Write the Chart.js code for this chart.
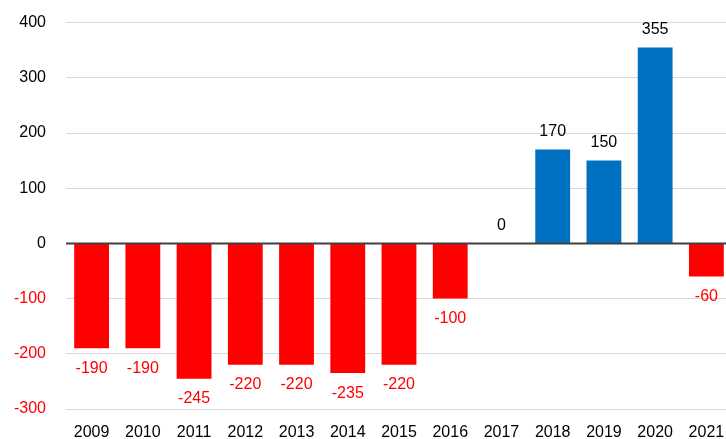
<!DOCTYPE html>
<html>
<head>
<meta charset="utf-8">
<script src="https://cdn.jsdelivr.net/npm/chart.js@4/dist/chart.umd.min.js"></script>
<style>
  html, body { margin: 0; padding: 0; background: #fff; overflow: hidden; }
  #wrap { width: 726px; height: 439px; overflow: hidden; }
  #myChart { display: block; margin-top: -7px; }
</style>
</head>
<body>
<div id="wrap"><canvas id="myChart" width="732" height="446"></canvas></div>
<script>
const years = ['2009', '2010', '2011', '2012', '2013', '2014', '2015', '2016', '2017', '2018', '2019', '2020', '2021'];
const values = [-190, -190, -245, -220, -220, -235, -220, -100, 0, 170, 150, 355, -60];
const yTicks = [-300, -200, -100, 0, 100, 200, 300, 400];

const RED = '#ff0000';
const BLUE = '#0070c0';
const FONT = '"Liberation Sans", Arial, sans-serif';

const canvas = document.getElementById('myChart');
const ctx = canvas.getContext('2d');

// value labels + dark zero line on top of the bars
const labelPlugin = {
  id: 'valueLabels',
  afterDatasetsDraw(chart) {
    const c = chart.ctx;
    const y = chart.scales.y;
    const area = chart.chartArea;
    const y0 = y.getPixelForValue(0);

    c.save();
    c.strokeStyle = '#404040';
    c.lineWidth = 2;
    c.beginPath();
    c.moveTo(area.left, y0);
    c.lineTo(area.right, y0);
    c.stroke();

    c.font = '16px ' + FONT;
    c.textAlign = 'center';
    c.textBaseline = 'middle';
    chart.getDatasetMeta(0).data.forEach((bar, i) => {
      const v = values[i];
      const py = y.getPixelForValue(v);
      if (v < 0) {
        c.fillStyle = RED;
        c.fillText(String(v), bar.x, py + 20);
      } else {
        c.fillStyle = '#000';
        c.fillText(String(v), bar.x, py - 18);
      }
    });
    c.restore();
  }
};

new Chart(ctx, {
  type: 'bar',
  data: {
    labels: years,
    datasets: [{
      data: values,
      backgroundColor: values.map(v => v < 0 ? RED : BLUE),
      categoryPercentage: 0.68,
      barPercentage: 1
    }]
  },
  options: {
    responsive: false,
    animation: false,
    layout: { padding: { top: 16, right: 0, left: 0, bottom: 0 } },
    plugins: {
      legend: { display: false },
      tooltip: { enabled: false }
    },
    scales: {
      x: {
        grid: { display: false },
        border: { display: false },
        ticks: {
          color: '#000',
          font: { size: 16, family: FONT },
          padding: 6,
          maxRotation: 0
        },
        afterFit(scale) { scale.height = 30; }
      },
      y: {
        min: -300,
        max: 400,
        afterBuildTicks(scale) { scale.ticks = yTicks.map(v => ({ value: v })); },
        grid: {
          color: ctx => ctx.tick && ctx.tick.value === 0 ? 'rgba(0,0,0,0)' : '#d9d9d9',
          lineWidth: 1,
          drawTicks: false
        },
        border: { display: false },
        ticks: {
          color: ctx => ctx.tick && ctx.tick.value < 0 ? RED : '#000',
          font: { size: 16, family: FONT },
          padding: 20
        },
        afterFit(scale) { scale.width = 66; }
      }
    }
  },
  plugins: [labelPlugin]
});
</script>
</body>
</html>
